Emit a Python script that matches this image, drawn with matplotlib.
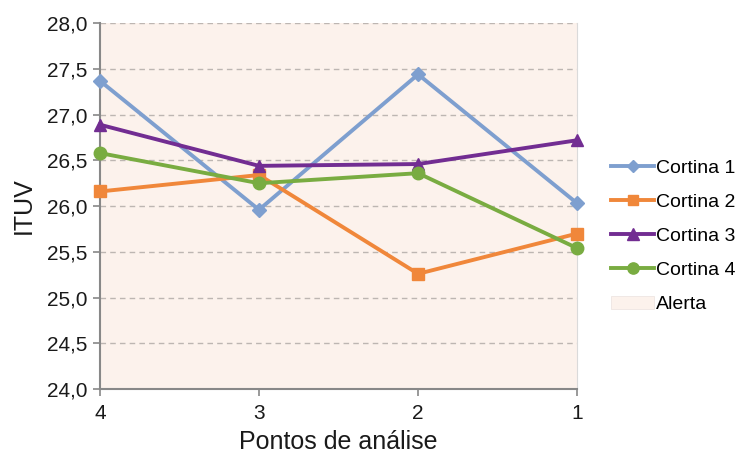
import matplotlib
matplotlib.use("Agg")
import matplotlib.pyplot as plt
from matplotlib.patches import Patch
from matplotlib.lines import Line2D

plt.rcParams['font.family'] = ['Liberation Sans', 'DejaVu Sans']

pontos = ["4", "3", "2", "1"]
cortina1 = [27.37, 25.96, 27.44, 26.03]
cortina2 = [26.16, 26.34, 25.26, 25.70]
cortina3 = [26.89, 26.44, 26.46, 26.72]
cortina4 = [26.58, 26.25, 26.36, 25.54]
alerta_lo, alerta_hi = 24.0, 28.0
yticks = [24.0, 24.5, 25.0, 25.5, 26.0, 26.5, 27.0, 27.5, 28.0]

series = [
    ("Cortina 1", cortina1, "#7E9FCF", "D", 7),
    ("Cortina 2", cortina2, "#F0873A", "s", 8),
    ("Cortina 3", cortina3, "#722D92", "^", 9),
    ("Cortina 4", cortina4, "#79AC41", "o", 9),
]
alerta_color = "#FCF2EC"

fig = plt.figure(figsize=(7.4, 4.54), dpi=100)
ax = fig.add_axes([0.135, 0.143, 0.645, 0.806])

x = list(range(len(pontos)))
ax.fill_between([x[0], x[-1]], alerta_lo, alerta_hi, color=alerta_color, lw=0, zorder=0)

for label, vals, col, mk, ms in series:
    ax.plot(x, vals, color=col, lw=2.8, marker=mk, ms=ms, mec=col, mfc=col,
            label=label, zorder=3, clip_on=False)

ax.set_xlim(x[0], x[-1])
ax.set_ylim(alerta_lo, alerta_hi)
ax.set_yticks(yticks)
ax.set_yticklabels([f"{v:.1f}".replace(".", ",") for v in yticks])
ax.set_xticks(x)
ax.set_xticklabels(pontos)

for v in yticks[1:]:
    ax.axhline(v, color="#BDB6B2", lw=1.0, ls=(0, (4, 3)), zorder=1)

ax.spines["top"].set_visible(False)
ax.spines["right"].set_color("#DADADA")
ax.spines["right"].set_linewidth(0.8)
for s in ["left", "bottom"]:
    ax.spines[s].set_color("#888888")
    ax.spines[s].set_linewidth(1.5)
ax.tick_params(axis="both", direction="out", color="#888888", width=1.2,
               length=5, labelsize=15, labelcolor="#1a1a1a")
ax.tick_params(axis="x", pad=6)
ax.tick_params(axis="y", pad=4)

ax.set_xlabel("Pontos de análise", fontsize=18, color="#1a1a1a", labelpad=5)
ax.set_ylabel("ITUV", fontsize=18, color="#1a1a1a", labelpad=8)

handles = [Line2D([0], [0], color=c, lw=2.8, marker=m, ms=ms * 0.9, mfc=c, mec=c)
           for _, _, c, m, ms in series]
handles.append(Patch(facecolor=alerta_color, edgecolor="#EEE6E2", lw=0.6))
labels = [s[0] for s in series] + ["Alerta"]
fig.legend(handles, labels, loc="center left", bbox_to_anchor=(0.826, 0.48),
           frameon=False, fontsize=14, handlelength=2.2, handletextpad=0.1,
           labelspacing=0.85, borderpad=0, borderaxespad=0)

fig.savefig("out.png", dpi=100, facecolor="white")
